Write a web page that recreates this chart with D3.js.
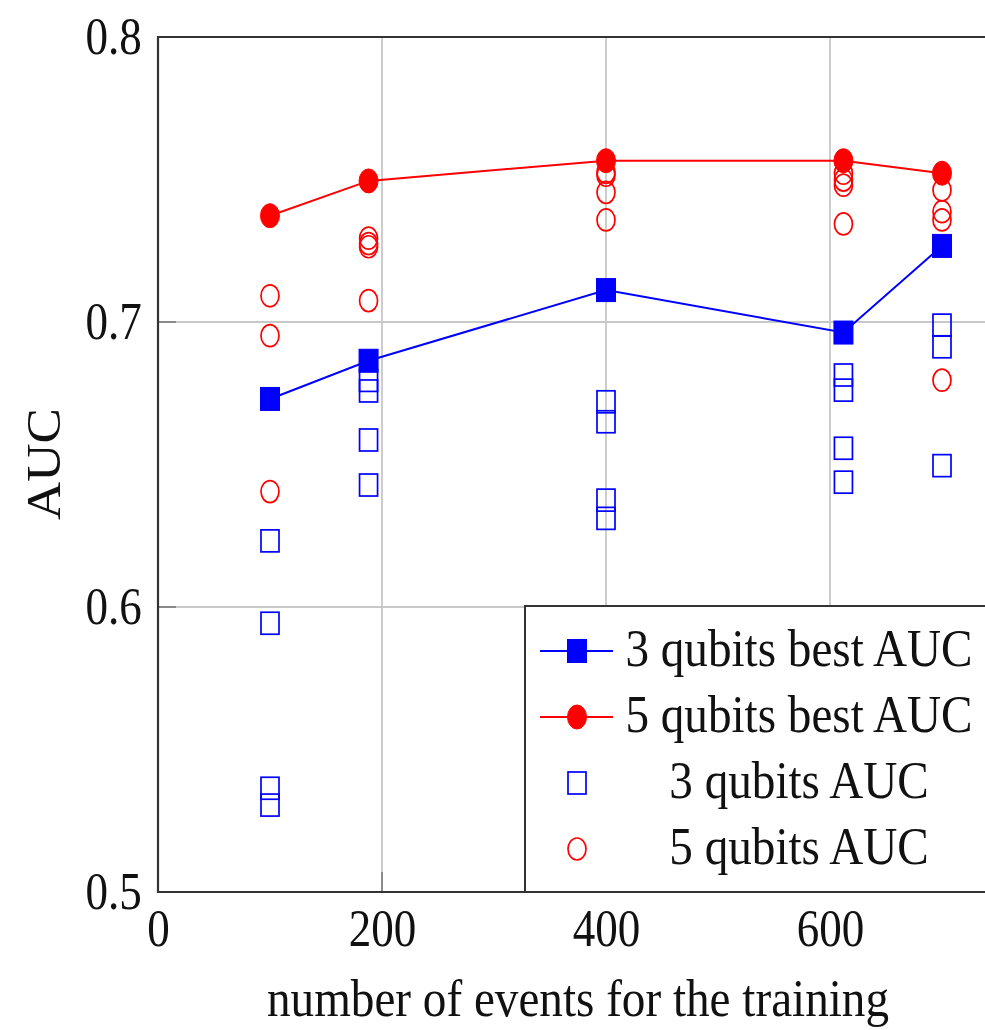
<!DOCTYPE html>
<html>
<head>
<meta charset="utf-8">
<script src="https://cdn.jsdelivr.net/npm/d3@7"></script>
<style>
  html, body { margin: 0; padding: 0; background: #fff; }
  svg { display: block; }
  text { font-family: "Liberation Serif", "Times New Roman", serif; fill: #111; }
</style>
</head>
<body>
<svg id="chart" width="985" height="1030"></svg>
<script>
// ---- data ----
const xValues = [100, 188, 400, 612, 700];
const best3 = [0.6730, 0.6864, 0.7112, 0.6963, 0.7267];
const best5 = [0.7373, 0.7495, 0.7566, 0.7566, 0.7522];
const runs3 = [
  [0.6232, 0.5943, 0.5364, 0.5305],
  [0.6795, 0.6758, 0.6586, 0.6428],
  [0.6720, 0.6650, 0.6375, 0.6311],
  [0.6814, 0.6761, 0.6557, 0.6438],
  [0.6989, 0.6913, 0.6496]
];
const runs5 = [
  [0.7092, 0.6952, 0.6405],
  [0.7294, 0.7275, 0.7264, 0.7075],
  [0.7525, 0.7515, 0.7455, 0.7358],
  [0.7522, 0.7498, 0.7480, 0.7344],
  [0.7463, 0.7387, 0.7358, 0.6796]
];
const xTicks = [0, 200, 400, 600];
const yTicks = [0.5, 0.6, 0.7, 0.8];
const legendLabels = ["3 qubits best AUC", "5 qubits best AUC", "3 qubits AUC", "5 qubits AUC"];
const xLabel = "number of events for the training";
const yLabel = "AUC";

// ---- layout ----
const svg = d3.select("#chart");
const L = 158, R = 998, T = 37, B = 892;
const x = d3.scaleLinear().domain([0, 750]).range([L, R]);
const y = d3.scaleLinear().domain([0.5, 0.8]).range([B, T]);
const BLUE = "#0000ff", RED = "#ff0000";
const FS = 53, SX = 0.89;

svg.append("rect").attr("width", 985).attr("height", 1030).attr("fill", "#fff");

// grid
const grid = svg.append("g");
grid.selectAll("line.vg").data(xTicks.filter(d => d > 0)).join("line")
  .attr("x1", d => x(d)).attr("x2", d => x(d)).attr("y1", T).attr("y2", B)
  .attr("stroke", "#c8c8c8").attr("stroke-width", 1.8);
grid.selectAll("line.hg").data(yTicks.filter(d => d > 0.5 && d < 0.8)).join("line")
  .attr("x1", L).attr("x2", R).attr("y1", d => y(d)).attr("y2", d => y(d))
  .attr("stroke", "#c8c8c8").attr("stroke-width", 1.8);

// small inner ticks
grid.selectAll("line.yt").data(yTicks.filter(d => d > 0.5 && d < 0.8)).join("line")
  .attr("x1", L).attr("x2", L + 18).attr("y1", d => y(d)).attr("y2", d => y(d))
  .attr("stroke", "#8a8a8a").attr("stroke-width", 2);
grid.selectAll("line.xt").data(xTicks.filter(d => d > 0)).join("line")
  .attr("x1", d => x(d)).attr("x2", d => x(d)).attr("y1", B).attr("y2", B - 20)
  .attr("stroke", "#8a8a8a").attr("stroke-width", 2);

// marker helpers
function openSquare(g, cx, cy, color) {
  g.append("rect").attr("x", cx - 9).attr("y", cy - 11).attr("width", 18).attr("height", 22)
    .attr("fill", "none").attr("stroke", color).attr("stroke-width", 1.7);
}
function openCircle(g, cx, cy, color) {
  g.append("ellipse").attr("cx", cx).attr("cy", cy).attr("rx", 9).attr("ry", 11)
    .attr("fill", "none").attr("stroke", color).attr("stroke-width", 1.7);
}
function filledSquare(g, cx, cy, color) {
  g.append("rect").attr("x", cx - 9.5).attr("y", cy - 11.5).attr("width", 19).attr("height", 23)
    .attr("fill", color).attr("stroke", color).attr("stroke-width", 1);
}
function filledCircle(g, cx, cy, color) {
  g.append("ellipse").attr("cx", cx).attr("cy", cy).attr("rx", 9.5).attr("ry", 12)
    .attr("fill", color).attr("stroke", color).attr("stroke-width", 1);
}

// individual runs
const pts = svg.append("g");
runs3.forEach((arr, i) => arr.forEach(v => openSquare(pts, x(xValues[i]), y(v), BLUE)));
runs5.forEach((arr, i) => arr.forEach(v => openCircle(pts, x(xValues[i]), y(v), RED)));

// best lines
const line = d3.line().x(d => x(d[0])).y(d => y(d[1]));
const b3 = xValues.map((d, i) => [d, best3[i]]);
const b5 = xValues.map((d, i) => [d, best5[i]]);
svg.append("path").attr("d", line(b3)).attr("fill", "none").attr("stroke", BLUE).attr("stroke-width", 2);
svg.append("path").attr("d", line(b5)).attr("fill", "none").attr("stroke", RED).attr("stroke-width", 2);
const bm = svg.append("g");
b3.forEach(d => filledSquare(bm, x(d[0]), y(d[1]), BLUE));
b5.forEach(d => filledCircle(bm, x(d[0]), y(d[1]), RED));

// legend
const lg = svg.append("g");
lg.append("rect").attr("x", 525).attr("y", 606).attr("width", 520).attr("height", B - 606)
  .attr("fill", "#fff").attr("stroke", "#333").attr("stroke-width", 2);
const rowY = [651, 717, 783, 849];
const lx1 = 540, lx2 = 613, lmx = 577;
lg.append("line").attr("x1", lx1).attr("x2", lx2).attr("y1", rowY[0]).attr("y2", rowY[0]).attr("stroke", BLUE).attr("stroke-width", 2);
filledSquare(lg, lmx, rowY[0], BLUE);
lg.append("line").attr("x1", lx1).attr("x2", lx2).attr("y1", rowY[1]).attr("y2", rowY[1]).attr("stroke", RED).attr("stroke-width", 2);
filledCircle(lg, lmx, rowY[1], RED);
openSquare(lg, lmx, rowY[2], BLUE);
openCircle(lg, lmx, rowY[3], RED);
legendLabels.forEach((t, i) => {
  lg.append("text")
    .attr("transform", `translate(799,${rowY[i] + 14.5}) scale(${SX},1)`)
    .attr("text-anchor", "middle").attr("font-size", FS).text(t);
});

// axes frame
const fr = svg.append("g").attr("stroke", "#333").attr("stroke-width", 2.2).attr("fill", "none");
fr.append("path").attr("d", `M${R},${T}H${L}V${B}H${R}`);

// tick labels via d3 axes
const yAxis = svg.append("g").attr("transform", `translate(${L},0)`)
  .call(d3.axisLeft(y).tickValues(yTicks).tickSize(0).tickPadding(19).tickFormat(d3.format(".1f")));
yAxis.select(".domain").remove();
yAxis.selectAll("text").attr("font-size", FS).attr("font-family", "Liberation Serif, serif")
  .attr("fill", "#111").attr("transform", "scale(0.85,1)");

const xAxis = svg.append("g").attr("transform", `translate(0,${B})`)
  .call(d3.axisBottom(x).tickValues(xTicks).tickSize(0).tickPadding(16).tickFormat(d3.format("d")));
xAxis.select(".domain").remove();
xAxis.selectAll("text").attr("font-size", FS).attr("font-family", "Liberation Serif, serif")
  .attr("fill", "#111").attr("transform", "scale(0.85,1)");

// axis titles
svg.append("text").attr("transform", `translate(${(L + R) / 2},1016) scale(${SX},1)`)
  .attr("text-anchor", "middle").attr("font-size", FS).text(xLabel);
svg.append("text").attr("transform", "translate(60,464) rotate(-90) scale(1,0.93)")
  .attr("text-anchor", "middle").attr("font-size", FS).text(yLabel);
</script>
</body>
</html>
